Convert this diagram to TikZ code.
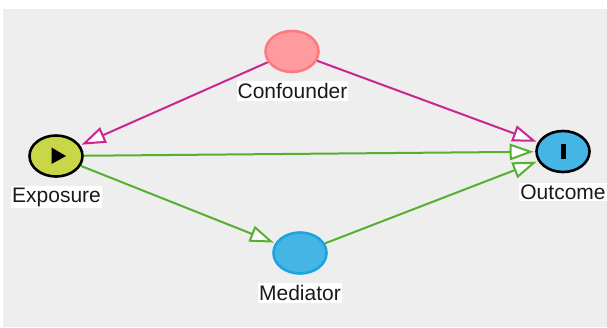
\documentclass[tikz,border=0pt]{standalone}
\usepackage{fontspec}
\setmainfont{Liberation Sans}
\usetikzlibrary{arrows.meta,shapes.geometric}
\definecolor{panel}{HTML}{EEEEEE}
\definecolor{confm}{HTML}{C9268F}
\definecolor{causal}{HTML}{55B032}
\definecolor{yellowgreen}{HTML}{C8D647}
\definecolor{bluefill}{HTML}{45B5E6}
\definecolor{blueline}{HTML}{1AA5E0}
\definecolor{pinkfill}{HTML}{FF9A9E}
\definecolor{pinkline}{HTML}{FF7A7E}
\definecolor{txt}{HTML}{1A1A1A}
\tikzset{
  dagnode/.style={ellipse,inner sep=0pt,minimum width=53bp,minimum height=41bp,line width=2.6bp},
  exposurenode/.style={dagnode,draw=black,fill=yellowgreen},
  outcomenode/.style={dagnode,draw=black,fill=bluefill},
  mediatornode/.style={dagnode,draw=blueline,fill=bluefill},
  confnode/.style={dagnode,draw=pinkline,fill=pinkfill},
  lab/.style={fill=white,text=txt,inner xsep=1bp,inner ysep=2bp,font=\fontsize{21bp}{23bp}\selectfont},
  edge/.style={line width=2bp,shorten >=1.5bp,-{Triangle[open,fill=white,length=24bp,width=16.5bp,line width=2bp]}},
  biasing/.style={edge,draw=confm},
  causalpath/.style={edge,draw=causal},
}
\begin{document}
\begin{tikzpicture}[x=1bp,y=-1bp]
\useasboundingbox (0,0) rectangle (607,327);
\fill[panel] (3,9) rectangle (607,327);
\node[confnode] (c) at (292,51.5) {};
\node[exposurenode] (e) at (56,156) {};
\node[outcomenode] (o) at (563,151.5) {};
\node[mediatornode] (m) at (300,253) {};
\draw[biasing] (c) -- (e);
\draw[biasing] (c) -- (o);
\draw[causalpath] (e) -- (o);
\draw[causalpath] (e) -- (m);
\draw[causalpath] (m) -- (o);
\fill[black] (51.5,147.5) -- (66,156) -- (51.5,164) -- cycle;
\fill[black] (561,143.5) rectangle (566,158.5);
\node[lab] (cl) at (292.5,91) {Confounder};
\node[lab] (el) at (56.5,197) {Exposure};
\node[lab] (ol) at (563,192) {Outcome};
\node[lab] (ml) at (300,293) {Mediator};
\end{tikzpicture}
\end{document}
